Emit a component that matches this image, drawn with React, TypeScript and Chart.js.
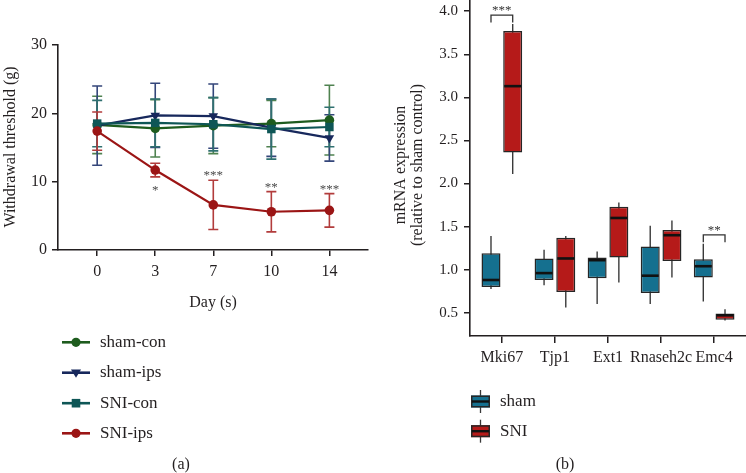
import React, { useEffect, useRef } from 'react';
import { Chart, registerables } from 'chart.js';

Chart.register(...registerables);

const FF = '"Liberation Serif", "Times New Roman", serif';
const INK = '#231f20';

// ---------- Panel (a) data ----------
const days = ['0', '3', '7', '10', '14'];
const shamConMean = [18.3, 17.8, 18.2, 18.5, 19.0];
const shamConErr = [4.2, 4.2, 4.1, 3.4, 5.1];
const shamIpsMean = [18.2, 19.7, 19.6, 17.9, 16.4];
const shamIpsErr = [5.8, 4.7, 4.7, 4.2, 3.4];
const sniConMean = [18.5, 18.6, 18.4, 17.7, 18.0];
const sniConErr = [3.4, 3.5, 3.9, 4.4, 2.9];
const sniIpsMean = [17.4, 11.7, 6.6, 5.6, 5.8];
const sniIpsErr = [2.8, 1.0, 3.6, 2.95, 2.45];
const sniIpsSig = ['', '*', '***', '**', '***'];
const yTicksA = [0, 10, 20, 30];

// ---------- Panel (b) data ----------
const genes = ['Mki67', 'Tjp1', 'Ext1', 'Rnaseh2c', 'Emc4'];
const shamMin = [0.775, 0.82, 0.6, 0.6, 0.63];
const shamQ1 = [0.8, 0.88, 0.9, 0.73, 0.91];
const shamMedian = [0.88, 0.96, 1.11, 0.93, 1.04];
const shamQ3 = [1.19, 1.13, 1.14, 1.27, 1.12];
const shamMax = [1.39, 1.23, 1.21, 1.51, 1.3];
const sniMin = [2.11, 0.56, 0.85, 0.91, 0.41];
const sniQ1 = [2.36, 0.74, 1.14, 1.1, 0.42];
const sniMedian = [3.13, 1.13, 1.6, 1.4, 0.47];
const sniQ3 = [3.77, 1.37, 1.73, 1.46, 0.49];
const sniMax = [3.85, 1.39, 1.78, 1.57, 0.54];
const sigGenes = ['Mki67', 'Emc4'];
const sigMarks = ['***', '**'];
const yTicksB = [0.5, 1.0, 1.5, 2.0, 2.5, 3.0, 3.5, 4.0];

const SHAM_FILL = '#15708f';
const SNI_FILL = '#b51a19';
const EDGE = '#262626';

// page -> canvas B offsets
const B_LEFT = 390;
const B_TOP = -20;

function drawMarker(ctx: CanvasRenderingContext2D, style: string, x: number, y: number, r: number, color: string) {
  ctx.fillStyle = color;
  ctx.beginPath();
  if (style === 'circle') ctx.arc(x, y, r, 0, Math.PI * 2);
  else if (style === 'rect') ctx.rect(x - r, y - r, 2 * r, 2 * r);
  else {
    ctx.moveTo(x - r * 1.1, y - r * 0.7);
    ctx.lineTo(x + r * 1.1, y - r * 0.7);
    ctx.lineTo(x, y + r * 1.1);
    ctx.closePath();
  }
  ctx.fill();
}

function buildA(canvas: HTMLCanvasElement) {
  const series = [
    { label: 'sham-con', mean: shamConMean, err: shamConErr, color: '#1e5c1e', errColor: '#4f8250', style: 'circle', order: 3, radius: 4.8, rot: 0 },
    { label: 'sham-ips', mean: shamIpsMean, err: shamIpsErr, color: '#17285c', errColor: '#34467a', style: 'triangle', order: 2, radius: 5.5, rot: 180 },
    { label: 'SNI-con', mean: sniConMean, err: sniConErr, color: '#0e5656', errColor: '#2f7070', style: 'rect', order: 1, radius: 6, rot: 0 },
    { label: 'SNI-ips', mean: sniIpsMean, err: sniIpsErr, color: '#9b1515', errColor: '#b23c3c', style: 'circle', order: 0, radius: 4.8, rot: 0, sig: sniIpsSig },
  ];

  const plugin = {
    id: 'panelA',
    beforeDatasetsDraw(chart: any) {
      const { ctx } = chart;
      const x = chart.scales.x;
      const y = chart.scales.y;
      chart.data.datasets.forEach((ds: any) => {
        ctx.save();
        ctx.strokeStyle = ds.errColor;
        ctx.lineWidth = 1.6;
        ds.data.forEach((p: any, i: number) => {
          const px = x.getPixelForValue(p.x);
          const top = y.getPixelForValue(p.y + ds.err[i]);
          const bot = y.getPixelForValue(p.y - ds.err[i]);
          ctx.beginPath();
          ctx.moveTo(px, top);
          ctx.lineTo(px, bot);
          ctx.moveTo(px - 5, top);
          ctx.lineTo(px + 5, top);
          ctx.moveTo(px - 5, bot);
          ctx.lineTo(px + 5, bot);
          ctx.stroke();
        });
        ctx.restore();
      });
    },
    afterDraw(chart: any) {
      const { ctx, chartArea } = chart;
      const x = chart.scales.x;
      const y = chart.scales.y;
      const dss = chart.data.datasets;
      ctx.save();
      // significance stars
      ctx.fillStyle = '#4a4a4a';
      ctx.font = `13px ${FF}`;
      ctx.textAlign = 'center';
      ctx.textBaseline = 'alphabetic';
      dss.forEach((ds: any) => {
        if (!ds.sig) return;
        ds.data.forEach((p: any, i: number) => {
          if (!ds.sig[i]) return;
          const upper = p.y + ds.err[i];
          let othersLow = Infinity;
          dss.forEach((o: any) => {
            if (o === ds) return;
            othersLow = Math.min(othersLow, o.data[i].y - o.err[i]);
          });
          const px = x.getPixelForValue(p.x);
          let cy;
          if (othersLow - upper < 2) cy = y.getPixelForValue(p.y - ds.err[i]) + 11;
          else cy = y.getPixelForValue(upper) - 7;
          ctx.fillText(ds.sig[i], px, cy + 6);
        });
      });
      // axis titles
      ctx.fillStyle = INK;
      ctx.font = `16px ${FF}`;
      ctx.fillText('Day (s)', (chartArea.left + chartArea.right) / 2, 307);
      ctx.save();
      ctx.translate(15, 147);
      ctx.rotate(-Math.PI / 2);
      ctx.fillText('Withdrawal threshold (g)', 0, 0);
      ctx.restore();
      // legend
      const rows = [342.3, 372.7, 403.2, 433.3];
      dss.forEach((ds: any, i: number) => {
        const ly = rows[i];
        ctx.strokeStyle = ds.borderColor;
        ctx.lineWidth = 2.6;
        ctx.beginPath();
        ctx.moveTo(62, ly);
        ctx.lineTo(90, ly);
        ctx.stroke();
        drawMarker(ctx, ds.markerKind, 76, ly, ds.markerKind === 'rect' ? 4.3 : 4.6, ds.borderColor);
        ctx.fillStyle = INK;
        ctx.font = `17px ${FF}`;
        ctx.textAlign = 'left';
        ctx.textBaseline = 'middle';
        ctx.fillText(ds.label, 100, ly);
      });
      ctx.textAlign = 'center';
      ctx.textBaseline = 'alphabetic';
      ctx.font = `16px ${FF}`;
      ctx.fillText('(a)', 181, 469);
      ctx.restore();
    },
  };

  return new Chart(canvas, {
    type: 'line',
    data: {
      datasets: series.map((s) => ({
        label: s.label,
        data: s.mean.map((v, i) => ({ x: i, y: v })),
        borderColor: s.color,
        backgroundColor: s.color,
        pointBackgroundColor: s.color,
        pointBorderColor: s.color,
        pointBorderWidth: 0,
        pointStyle: s.style,
        pointRotation: s.rot,
        pointRadius: s.radius,
        borderWidth: 2.2,
        tension: 0,
        order: s.order,
        err: s.err,
        errColor: s.errColor,
        markerKind: s.style,
        sig: (s as any).sig,
      })) as any,
    },
    options: {
      animation: false,
      responsive: false,
      layout: { padding: { left: 0, top: 45, right: 22, bottom: 0 } },
      plugins: { legend: { display: false }, tooltip: { enabled: false } },
      scales: {
        x: {
          type: 'linear',
          min: -0.675,
          max: 4.665,
          afterBuildTicks: (s: any) => {
            s.ticks = days.map((_, i) => ({ value: i }));
          },
          ticks: {
            callback: (_v: any, i: number) => days[i],
            font: { family: FF, size: 16 },
            color: INK,
            padding: 6,
            maxRotation: 0,
            autoSkip: false,
          },
          grid: { drawOnChartArea: false, tickLength: 6, color: INK, lineWidth: 1.5 },
          border: { color: INK, width: 1.6 },
          afterFit: (s: any) => {
            s.height = 223;
          },
        },
        y: {
          type: 'linear',
          min: 0,
          max: 30,
          afterBuildTicks: (s: any) => {
            s.ticks = yTicksA.map((v) => ({ value: v }));
          },
          ticks: {
            font: { family: FF, size: 16 },
            color: INK,
            padding: 5,
          },
          grid: { drawOnChartArea: false, tickLength: 6, color: INK, lineWidth: 1.5 },
          border: { color: INK, width: 1.6 },
          afterFit: (s: any) => {
            s.width = 58;
          },
        },
      },
    } as any,
    plugins: [plugin],
  });
}

function buildB(canvas: HTMLCanvasElement) {
  const groups = [
    { label: 'sham', color: SHAM_FILL, min: shamMin, q1: shamQ1, med: shamMedian, q3: shamQ3, max: shamMax },
    { label: 'SNI', color: SNI_FILL, min: sniMin, q1: sniQ1, med: sniMedian, q3: sniQ3, max: sniMax },
  ];
  const cx = (px: number) => px - B_LEFT;
  const cy = (py: number) => py - B_TOP;

  const plugin = {
    id: 'boxParts',
    beforeDatasetsDraw(chart: any) {
      const { ctx } = chart;
      const y = chart.scales.y;
      chart.data.datasets.forEach((ds: any, di: number) => {
        const meta = chart.getDatasetMeta(di);
        ctx.save();
        ctx.strokeStyle = '#3a3a3a';
        ctx.lineWidth = 1.4;
        meta.data.forEach((bar: any, i: number) => {
          ctx.beginPath();
          ctx.moveTo(bar.x, y.getPixelForValue(ds.whiskerHigh[i]));
          ctx.lineTo(bar.x, y.getPixelForValue(ds.whiskerLow[i]));
          ctx.stroke();
        });
        ctx.restore();
      });
    },
    afterDatasetsDraw(chart: any) {
      const { ctx } = chart;
      const y = chart.scales.y;
      chart.data.datasets.forEach((ds: any, di: number) => {
        const meta = chart.getDatasetMeta(di);
        ctx.save();
        ctx.strokeStyle = '#111';
        ctx.lineWidth = 2.6;
        meta.data.forEach((bar: any, i: number) => {
          const my = y.getPixelForValue(ds.median[i]);
          ctx.beginPath();
          ctx.moveTo(bar.x - bar.width / 2 + 1, my);
          ctx.lineTo(bar.x + bar.width / 2 - 1, my);
          ctx.stroke();
        });
        ctx.restore();
      });
    },
    afterDraw(chart: any) {
      const { ctx } = chart;
      const y = chart.scales.y;
      const dss = chart.data.datasets;
      const m0 = chart.getDatasetMeta(0);
      const m1 = chart.getDatasetMeta(1);
      ctx.save();
      // significance brackets
      sigGenes.forEach((g, k) => {
        const i = genes.indexOf(g);
        const xa = m0.data[i].x;
        const xb = m1.data[i].x;
        const topA = y.getPixelForValue(dss[0].whiskerHigh[i]);
        const topB = y.getPixelForValue(dss[1].whiskerHigh[i]);
        const by = Math.min(topA, topB) - 9;
        ctx.strokeStyle = '#333';
        ctx.lineWidth = 1.3;
        ctx.beginPath();
        ctx.moveTo(xa, by + 7.5);
        ctx.lineTo(xa, by);
        ctx.lineTo(xb, by);
        ctx.lineTo(xb, by + 7.5);
        ctx.stroke();
        ctx.fillStyle = '#333';
        ctx.font = `13px ${FF}`;
        ctx.textAlign = 'center';
        ctx.textBaseline = 'alphabetic';
        ctx.fillText(sigMarks[k], (xa + xb) / 2, by - 7 + 6);
      });
      // y title
      ctx.fillStyle = INK;
      ctx.font = `16px ${FF}`;
      ctx.textAlign = 'center';
      ctx.textBaseline = 'alphabetic';
      ctx.save();
      ctx.translate(cx(405), cy(165));
      ctx.rotate(-Math.PI / 2);
      ctx.fillText('mRNA expression', 0, 0);
      ctx.restore();
      ctx.save();
      ctx.translate(cx(422), cy(165));
      ctx.rotate(-Math.PI / 2);
      ctx.fillText('(relative to sham control)', 0, 0);
      ctx.restore();
      // legend
      const rows = [401.5, 431.2];
      dss.forEach((ds: any, i: number) => {
        const ly = cy(rows[i]);
        const x0 = cx(471);
        const w = 19;
        ctx.strokeStyle = '#3a3a3a';
        ctx.lineWidth = 1.3;
        ctx.beginPath();
        ctx.moveTo(x0 + w / 2, ly - 11.5);
        ctx.lineTo(x0 + w / 2, ly + 11.5);
        ctx.stroke();
        ctx.fillStyle = ds.backgroundColor;
        ctx.fillRect(x0, ly - 6, w, 12);
        ctx.strokeStyle = EDGE;
        ctx.lineWidth = 1.5;
        ctx.strokeRect(x0 + 0.75, ly - 5.25, w - 1.5, 10.5);
        ctx.strokeStyle = '#111';
        ctx.lineWidth = 2.4;
        ctx.beginPath();
        ctx.moveTo(x0 + 1, ly);
        ctx.lineTo(x0 + w - 1, ly);
        ctx.stroke();
        ctx.fillStyle = INK;
        ctx.font = `17px ${FF}`;
        ctx.textAlign = 'left';
        ctx.textBaseline = 'middle';
        ctx.fillText(ds.label, cx(500), ly);
      });
      ctx.textAlign = 'center';
      ctx.textBaseline = 'alphabetic';
      ctx.font = `16px ${FF}`;
      ctx.fillText('(b)', cx(565), cy(469));
      ctx.restore();
    },
  };

  return new Chart(canvas, {
    type: 'bar',
    data: {
      datasets: groups.map((g) => ({
        label: g.label,
        data: genes.map((_, i) => ({ x: i + 1, y: [g.q1[i], g.q3[i]] })),
        backgroundColor: g.color,
        borderColor: EDGE,
        borderWidth: 1.5,
        borderSkipped: false,
        categoryPercentage: 0.818,
        barPercentage: 0.875,
        whiskerLow: g.min,
        whiskerHigh: g.max,
        median: g.med,
      })) as any,
    },
    options: {
      animation: false,
      responsive: false,
      layout: { padding: { left: 0, top: 20, right: 20, bottom: 0 } },
      plugins: { legend: { display: false }, tooltip: { enabled: false } },
      scales: {
        x: {
          type: 'linear',
          min: 0.4,
          max: 5.6,
          offset: false,
          afterBuildTicks: (s: any) => {
            s.ticks = genes.map((_, i) => ({ value: i + 1 }));
          },
          ticks: {
            callback: (_v: any, i: number) => genes[i],
            font: { family: FF, size: 16 },
            color: INK,
            padding: 5,
            maxRotation: 0,
            autoSkip: false,
          },
          grid: { offset: false, drawOnChartArea: false, tickLength: 7, color: INK, lineWidth: 1.5 },
          border: { color: INK, width: 1.6 },
          afterFit: (s: any) => {
            s.height = 137;
          },
        },
        y: {
          type: 'linear',
          min: 0.23,
          max: 4.13,
          afterBuildTicks: (s: any) => {
            s.ticks = yTicksB.map((v) => ({ value: v }));
          },
          ticks: {
            callback: (v: any) => Number(v).toFixed(1),
            font: { family: FF, size: 15 },
            color: INK,
            padding: 6,
          },
          grid: { drawOnChartArea: false, tickLength: 6, color: INK, lineWidth: 1.5 },
          border: { color: INK, width: 1.6 },
          afterFit: (s: any) => {
            s.width = 80;
          },
        },
      },
    } as any,
    plugins: [plugin],
  });
}

export default function App() {
  const refA = useRef<HTMLCanvasElement>(null);
  const refB = useRef<HTMLCanvasElement>(null);
  useEffect(() => {
    const a = buildA(refA.current as HTMLCanvasElement);
    const b = buildB(refB.current as HTMLCanvasElement);
    return () => {
      a.destroy();
      b.destroy();
    };
  }, []);
  return (
    <div style={{ position: 'absolute', left: 0, top: 0, width: 746, height: 473, overflow: 'hidden', background: '#fff' }}>
      <canvas ref={refA} width={390} height={473} style={{ position: 'absolute', left: 0, top: 0, width: 390, height: 473 }} />
      <canvas ref={refB} width={376} height={493} style={{ position: 'absolute', left: B_LEFT, top: B_TOP, width: 376, height: 493 }} />
    </div>
  );
}
